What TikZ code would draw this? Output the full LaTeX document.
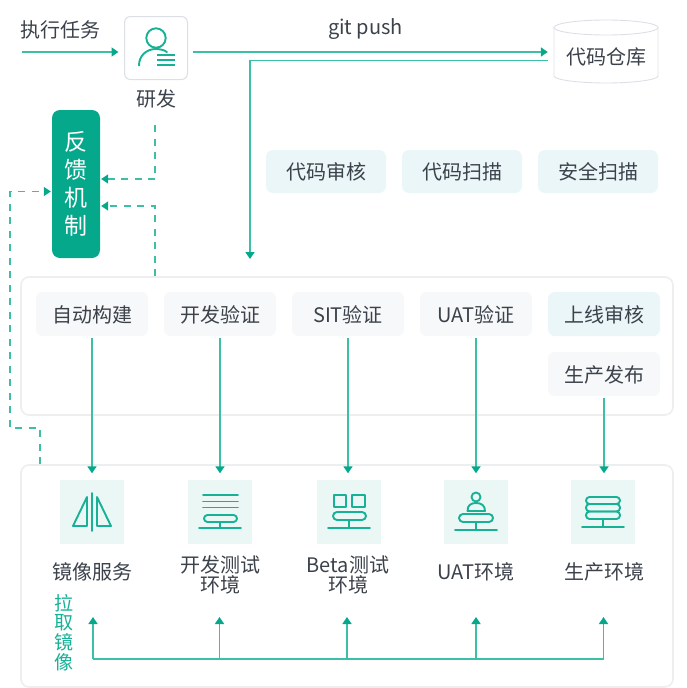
\documentclass[tikz,border=0pt]{standalone}
\usepackage{fontspec}
\setmainfont{Noto Sans CJK SC}
\usetikzlibrary{arrows.meta,calc}
\definecolor{tealdark}{HTML}{05A88A}
\definecolor{tealline}{HTML}{3DBFA6}
\definecolor{iconline}{HTML}{17B196}
\definecolor{inktext}{HTML}{3C424B}
\definecolor{frameg}{HTML}{EDEEF0}
\definecolor{cardg}{HTML}{F6F8F9}
\definecolor{cardb}{HTML}{EAF6F8}
\definecolor{icong}{HTML}{EAF7F5}
\definecolor{repoline}{HTML}{DDDFE6}
\tikzset{
  txt/.style={inner sep=0pt,text=inktext,font=\fontsize{20}{20.5}\selectfont,align=center},
  cardtxt/.style={txt,text height=18pt,text depth=2pt},
  cardgrey/.style={cardtxt,fill=cardg,rounded corners=7pt,minimum width=112pt,minimum height=44pt},
  cardblue/.style={cardtxt,fill=cardb,rounded corners=7pt,minimum width=120pt,minimum height=43pt},
  frame/.style={draw=frameg,line width=1.6pt,rounded corners=8pt,fill=white,inner sep=0pt,minimum width=652pt},
  iconbox/.style={fill=icong,inner sep=0pt,minimum width=64pt,minimum height=64pt},
  flow/.style={draw=tealline,line width=1.7pt,-{Triangle[length=7pt,width=9pt,color=tealdark]}},
  flowplain/.style={draw=tealline,line width=1.7pt},
  dashflow/.style={draw=tealline,line width=1.4pt,dash pattern=on 7pt off 6.5pt,-{Triangle[length=7pt,width=9pt,color=tealdark]}},
  glyph/.style={draw=iconline,line width=1.9pt,line cap=round,line join=round,rounded corners=0pt},
}
\begin{document}
\begin{tikzpicture}[x=1pt,y=-1pt]
\useasboundingbox (0,0) rectangle (686,688);

% containers
\node[frame,minimum height=138pt] (stages) at (347,346) {};
\node[frame,minimum height=222pt] (envs) at (347,576) {};

% top row
\node[txt] (task) at (60.5,29.5) {执行任务};
\coordinate (taskstart) at (22,52);
\node[draw=repoline,line width=1pt,fill=white,rounded corners=6pt,inner sep=0pt,minimum width=63pt,minimum height=63pt] (dev) at (156,48) {};
\node[txt] (devlabel) at (156,99) {研发};
\node[txt] (gitpush) at (365.5,29.5) {git push};

% repository cylinder
\node[txt,minimum width=104pt,minimum height=63pt] (repo) at (606,51.5) {};
\draw[draw=repoline,line width=.9pt] (554,28) -- (554,76) .. controls (554,80) and (580,83) .. (606,83) .. controls (632,83) and (658,80) .. (658,76) -- (658,28);
\draw[draw=repoline,line width=.9pt] (606,27.5) ellipse [x radius=52pt,y radius=7.5pt];
\node[txt] (repolabel) at (606,57) {代码仓库};

% feedback
\node[fill=tealdark,rounded corners=8pt,inner sep=0pt,minimum width=48pt,minimum height=148pt,text=white,font=\fontsize{23}{28}\selectfont,align=center] (feedback) at (76,184) {反\\馈\\机\\制};

% scan cards
\node[cardblue] (review) at (326,171.5) {代码审核};
\node[cardblue] (codescan) at (462,171.5) {代码扫描};
\node[cardblue] (secscan) at (598,171.5) {安全扫描};

% stage cards
\node[cardgrey] (s1) at (92,314) {自动构建};
\node[cardgrey] (s2) at (220,314) {开发验证};
\node[cardgrey] (s3) at (348,314) {SIT验证};
\node[cardgrey] (s4) at (476,314) {UAT验证};
\node[cardgrey,fill=cardb] (s5) at (604,314) {上线审核};
\node[cardgrey] (s6) at (604,374) {生产发布};

% icon boxes
\node[iconbox] (i1) at (92,511.5) {};
\node[iconbox] (i2) at (220,511.5) {};
\node[iconbox] (i3) at (349,511.5) {};
\node[iconbox] (i4) at (476,511.5) {};
\node[iconbox] (i5) at (603,511.5) {};

% env labels
\node[txt] (l1) at (92,571.5) {镜像服务};
\node[txt] (l2) at (220,575) {开发测试\\环境};
\node[txt] (l3) at (348,575) {Beta测试\\环境};
\node[txt] (l4) at (476,571.5) {UAT环境};
\node[txt] (l5) at (604,571.5) {生产环境};
\node[inner sep=0pt,text=iconline,font=\fontsize{19}{19.8}\selectfont,align=center] (pull) at (64,632.5) {拉\\取\\镜\\像};

% glyph: person
\draw[glyph] (156,38) circle [radius=9.7pt];
\draw[glyph] (139,65.5) .. controls (139,56) and (146,49) .. (156,49) .. controls (160,49) and (164,50) .. (167,52);
\draw[glyph,line cap=butt] (157,55) -- (175,55) (157,60) -- (175,60) (157,65) -- (175,65);

% glyph: mirror
\draw[glyph] (92,493) -- (92,531);
\draw[glyph] (87,497) -- (73,526) -- (87,526) -- cycle;
\draw[glyph] (97,497) -- (111,526) -- (97,526) -- cycle;

% glyph: dev
\draw[glyph] (203,495) -- (238,495) (203,501.5) -- (238,501.5) (203,507.5) -- (238,507.5);
\draw[glyph,rounded corners=3.5pt] (204,515) rectangle (237,522);
\draw[glyph] (220,522) -- (220,528) (199,528) -- (241,528);

% glyph: beta
\draw[glyph] (334,495) rectangle (346,507);
\draw[glyph] (352,495) rectangle (365,507);
\draw[glyph,rounded corners=4pt] (333,512) rectangle (366,520);
\draw[glyph] (349,520) -- (349,528) (328,528) -- (370,528);

% glyph: uat
\draw[glyph] (476,497) circle [radius=4.5pt];
\draw[glyph] (467.5,511) .. controls (467.5,505) and (471,503) .. (476,503) .. controls (481,503) and (485,505) .. (485,511) -- cycle;
\draw[glyph,rounded corners=4pt] (459,514) rectangle (493,522);
\draw[glyph] (476,522) -- (476,530) (455,530) -- (497,530);

% glyph: prod
\draw[glyph,rounded corners=3.5pt] (586,497) rectangle (620,504);
\draw[glyph,rounded corners=3.5pt] (586,504) rectangle (620,511.5);
\draw[glyph,rounded corners=3.5pt] (586,511.5) rectangle (620,519);
\draw[glyph] (603,519) -- (603,527) (582,527) -- (624,527);

% main connectors
\coordinate (pushend) at ([xshift=-6pt,yshift=-0.5pt]repo.west);
\coordinate (backstart) at ([xshift=-6pt,yshift=-9pt]repo.west);
\coordinate (scanin) at (250,259);
\draw[flow] (taskstart) -- ([xshift=-5.5pt,yshift=-4pt]dev.west);
\draw[flow] ([xshift=4.5pt,yshift=-4pt]dev.east) -- (pushend);
\draw[flow] (backstart) -- (scanin |- backstart) -- (scanin);

\draw[flow] ([yshift=-2pt]s1.south) -- ([yshift=6pt]i1.north);
\draw[flow] ([yshift=-2pt]s2.south) -- ([yshift=6pt]i2.north);
\draw[flow] ([yshift=-2pt]s3.south) -- ([yshift=6pt,xshift=-1pt]i3.north);
\draw[flow] ([yshift=-2pt]s4.south) -- ([yshift=6pt]i4.north);
\draw[flow] ([yshift=-2pt]s6.south) -- ([yshift=6pt,xshift=1pt]i5.north);

% dashed feedback
\coordinate (d1) at (155,125);
\coordinate (fb1) at ([xshift=1pt,yshift=5pt]feedback.east);
\coordinate (fb2) at ([xshift=1pt,yshift=-22pt]feedback.east);
\coordinate (fb3) at ([xshift=-1pt,yshift=-7.5pt]feedback.west);
\coordinate (d2) at ([xshift=-192pt]stages.north);
\coordinate (d3) at (40,464);
\draw[dashflow] (d1) -- (d1 |- fb1) -- (fb1);
\draw[dashflow] (d2) -- (d2 |- fb2) -- (fb2);
\draw[dashflow] (d3) -- (40,428) -- (10,428) -- (10,191.5) -- (fb3);

% pull bus
\coordinate (b1) at (93,659);
\coordinate (b2) at (219.5,659);
\coordinate (b3) at (347,659);
\coordinate (b4) at (476,659);
\coordinate (b5) at (603.5,659);
\draw[flowplain] (b1) -- (b5);
\draw[flow] (b1) -- (93,617);
\draw[flow] (b2) -- (219.5,617);
\draw[flow] (b3) -- (347,617);
\draw[flow] (b4) -- (476,617);
\draw[flow] (b5) -- (603.5,617);
\end{tikzpicture}
\end{document}
